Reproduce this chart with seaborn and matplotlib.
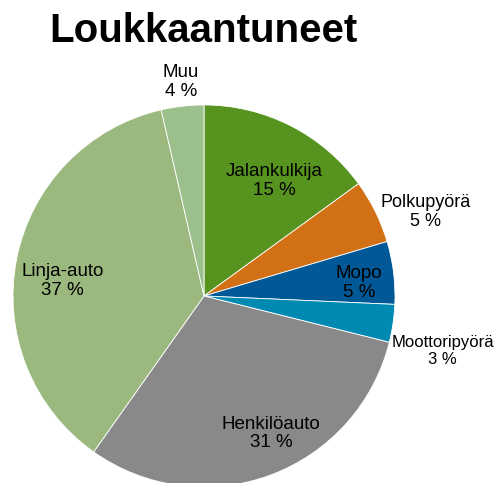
import matplotlib
matplotlib.use("Agg")
import matplotlib.pyplot as plt
import seaborn as sns

# --- Data ---
categories = ["Jalankulkija", "Polkupyörä", "Mopo", "Moottoripyörä",
              "Henkilöauto", "Linja-auto", "Muu"]
shares = [15.0, 5.4, 5.3, 3.2, 30.9, 36.6, 3.6]
colors = ["#57941f", "#d27016", "#005996", "#008ab2",
          "#898989", "#9bb97f", "#9cc08c"]

# label positions in units of the pie radius, plus font size
label_pos = [(0.37, 0.60), (1.16, 0.44), (0.81, 0.07), (1.25, -0.29),
             (0.35, -0.72), (-0.74, 0.08), (-0.12, 1.12)]
label_size = [13.5, 13, 13.5, 12, 13.5, 13.5, 13.5]

sns.set_theme(style="white")
plt.rcParams["font.family"] = ["Liberation Sans", "DejaVu Sans"]

fig = plt.figure(figsize=(5.0, 4.83), dpi=100)
ax = fig.add_axes([0.026, -0.0083, 0.764, 0.791])

ax.pie(shares, colors=colors, startangle=90, counterclock=False,
       radius=1.0, wedgeprops=dict(edgecolor="white", linewidth=0.6))
ax.set_xlim(-1, 1)
ax.set_ylim(-1, 1)
ax.set_aspect("auto")
ax.axis("off")

for name, val, (x, y), fs in zip(categories, shares, label_pos, label_size):
    ax.text(x, y, f"{name}\n{round(val):.0f} %", ha="center", va="center",
            fontsize=fs, color="black", linespacing=1.15, clip_on=False)

fig.text(0.406, 0.936, "Loukkaantuneet", ha="center", va="center",
         fontsize=29, fontweight="bold", color="black")

fig.savefig("out.png", dpi=100)
